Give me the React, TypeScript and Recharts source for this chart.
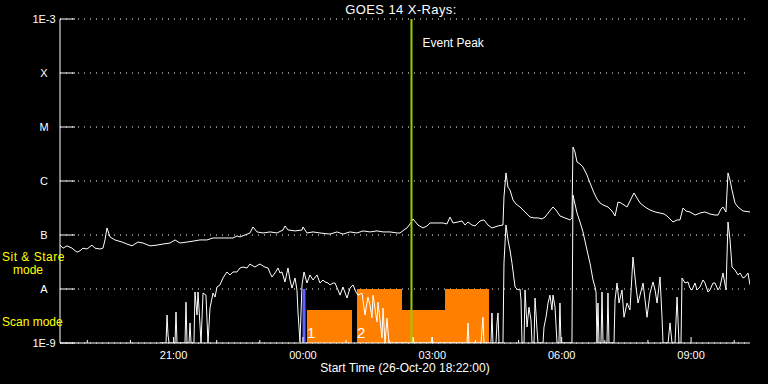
import React from "react";
import {
  ComposedChart,
  Line,
  Area,
  XAxis,
  YAxis,
  CartesianGrid,
  ReferenceLine,
} from "recharts";

// time = minutes after the start time (26-Oct-20 18:22:00), flux in W/m^2
const LONG_CHANNEL: [number, number][] = [
  [0, 6.5e-8], [4.2, 5.7e-8], [9.7, 6.3e-8], [16.7, 5.7e-8], [23.7, 4.8e-8], [27.8, 5.1e-8],
  [32, 5.7e-8], [37.6, 5.5e-8], [44.5, 6.5e-8], [48.7, 5.7e-8], [55.7, 5.5e-8], [59.8, 5.7e-8],
  [62.6, 8.1e-8], [65.4, 1.35e-7], [69.6, 9.2e-8], [76.5, 8.1e-8], [86.3, 7.4e-8], [93.2, 6.8e-8],
  [100.2, 6.3e-8], [108.5, 7.4e-8], [115.5, 7.1e-8], [125.2, 6.3e-8], [135, 6.5e-8], [143.3, 6.8e-8],
  [153, 7.1e-8], [160, 8.1e-8], [167, 7.1e-8], [176.7, 7.4e-8], [185, 7.7e-8], [194.8, 8.1e-8],
  [204.5, 8.1e-8], [212.9, 8.8e-8], [222.6, 8.8e-8], [232.3, 8.8e-8], [240.7, 8.8e-8], [246.3, 9.6e-8],
  [250.4, 9.2e-8], [257.4, 1.0e-7], [264.3, 1.09e-7], [268.5, 1.41e-7], [274.1, 1.14e-7], [282.4, 1.09e-7],
  [292.2, 1.14e-7], [301.9, 1.09e-7], [310.3, 1.24e-7], [313, 1.47e-7], [317.2, 1.24e-7], [327, 1.19e-7],
  [336.7, 1.24e-7], [338.1, 1.41e-7], [343.6, 1.09e-7], [352, 1.14e-7], [361.7, 1.09e-7], [375.7, 1.04e-7],
  [385.4, 1.14e-7], [393.7, 1.04e-7], [403.5, 1.14e-7], [413.2, 1.09e-7], [421.6, 1.19e-7], [431.3, 1.14e-7],
  [441, 1.19e-7], [449.4, 1.14e-7], [459.1, 1.14e-7], [468.9, 1.09e-7], [473, 1.09e-7], [478.6, 1.24e-7],
  [482.8, 1.35e-7], [487, 1.6e-7], [491.1, 1.98e-7], [498.1, 1.53e-7], [505, 1.35e-7], [510.6, 1.47e-7],
  [514.8, 1.67e-7], [524.5, 1.67e-7], [532.9, 1.67e-7], [538.4, 1.6e-7], [542.6, 2.15e-7], [546.8, 1.67e-7],
  [553.7, 1.74e-7], [559.3, 1.82e-7], [563.5, 1.53e-7], [567.7, 1.74e-7], [573.2, 1.53e-7], [577.4, 1.47e-7],
  [584.4, 1.82e-7], [589.9, 1.9e-7], [595.5, 1.53e-7], [601, 1.35e-7], [609.4, 1.47e-7], [616.3, 1.53e-7],
  [617.7, 5.06e-7], [620.5, 1.41e-6], [623.3, 7.7e-7], [626.1, 6.8e-7], [630.3, 4.45e-7], [634.4, 3.75e-7],
  [640, 3.3e-7], [647, 2.67e-7], [653.9, 2.15e-7], [659.5, 2.07e-7], [665, 2.07e-7], [670.6, 1.98e-7],
  [674.8, 2.15e-7], [680.3, 2.67e-7], [685.9, 3.3e-7], [690.1, 2.9e-7], [695.6, 2.25e-7], [702.6, 2.07e-7],
  [709.6, 1.9e-7], [712.3, 2.07e-7], [713.7, 4.27e-6], [716.5, 3.44e-6], [719.3, 2.25e-6], [723.5, 2.07e-6],
  [727.6, 1.82e-6], [733.2, 1.29e-6], [737.4, 9.2e-7], [743, 6.0e-7], [747.1, 4.64e-7], [751.3, 3.92e-7],
  [755.5, 3.6e-7], [762.4, 3.3e-7], [768, 2.78e-7], [772.2, 2.25e-7], [776.4, 4.08e-7], [780.5, 3.92e-7],
  [784.7, 3.6e-7], [788.9, 3.3e-7], [793, 4.26e-7], [798.6, 6.0e-7], [802.8, 4.84e-7], [807, 3.92e-7],
  [814, 3.3e-7], [820.9, 2.9e-7], [827.9, 2.67e-7], [834.8, 2.55e-7], [840.4, 2.45e-7], [844.5, 2.25e-7],
  [848.7, 1.98e-7], [852.9, 1.74e-7], [858.5, 1.9e-7], [862.6, 1.9e-7], [866.8, 3.16e-7], [871, 2.78e-7],
  [876.5, 2.67e-7], [883.5, 2.34e-7], [890.4, 2.55e-7], [897.4, 2.67e-7], [904.3, 2.45e-7], [911.3, 2.34e-7],
  [915.5, 2.34e-7], [919.6, 3.03e-7], [922.4, 3.3e-7], [926.6, 2.67e-7], [929.4, 1.41e-6], [932.2, 1.04e-6],
  [935, 6.8e-7], [939.1, 3.92e-7], [943.3, 3.3e-7], [950.3, 2.78e-7], [960, 2.67e-7],
];

const SHORT_CHANNEL: [number, number][] = [
  [139.1, 1e-9], [147.5, 1e-9], [148.9, 3.3e-9], [150.3, 1.41e-9], [151.7, 1e-9], [160, 1e-9],
  [161.4, 3.75e-9], [162.8, 1e-9], [173.9, 1e-9], [175.3, 5.7e-9], [176.7, 1e-9], [179.5, 1e-9],
  [180.9, 2.35e-9], [182.3, 1e-9], [186.4, 1e-9], [187.8, 8.8e-9], [190.6, 3.3e-9], [192, 8.8e-9],
  [194.8, 2.15e-9], [196.2, 1e-9], [199, 8.4e-9], [203.1, 7.7e-9], [205.9, 1e-9], [208.7, 4.45e-9],
  [212.9, 8.4e-9], [215.7, 7.1e-9], [218.4, 1.09e-8], [222.6, 1.19e-8], [226.8, 1.6e-8], [232.3, 2.07e-8],
  [236.5, 1.82e-8], [240.7, 2.07e-8], [246.3, 2.07e-8], [250.4, 2.45e-8], [254.6, 2.55e-8], [260.2, 2.45e-8],
  [264.3, 2.9e-8], [268.5, 2.67e-8], [271.3, 2.55e-8], [275.5, 2.78e-8], [278.3, 2.9e-8], [282.4, 2.67e-8],
  [285.2, 2.55e-8], [289.4, 2.45e-8], [292.2, 1.98e-8], [295, 1.67e-8], [299.1, 1.98e-8], [303.3, 2.45e-8],
  [306.1, 1.98e-8], [308.9, 2.07e-8], [313, 1.35e-8], [317.2, 2.45e-8], [320, 1.47e-8], [322.8, 1.04e-8],
  [327, 1.6e-8], [329.7, 9.6e-9], [331.1, 3.75e-9], [333.9, 1.04e-9], [336.7, 1.19e-8], [339.5, 2.07e-8],
  [343.6, 1.29e-8], [347.8, 1.82e-8], [352, 1.47e-8], [357.6, 1.82e-8], [361.7, 1.29e-8], [365.9, 1.47e-8],
  [368.7, 1.35e-8], [372.9, 1.29e-8], [375.7, 1.19e-8], [379.8, 1.29e-8], [382.6, 1.29e-8], [386.8, 9.6e-9],
  [389.6, 7.7e-9], [393.7, 1.09e-8], [399.3, 6.8e-9], [403.5, 1.04e-8], [407.6, 1.19e-8], [411.8, 8.8e-9],
  [414.6, 7.7e-9], [420.2, 8.4e-9], [424.3, 3.3e-9], [428.5, 7.1e-9], [431.3, 5.06e-9], [434.1, 2.9e-9],
  [435.5, 7.7e-9], [441, 2.45e-9], [442.4, 5.7e-9], [445.2, 2.67e-9], [448, 1.24e-9], [449.4, 4.45e-9],
  [452.2, 1e-9], [455, 2.9e-9], [457.7, 1e-9], [489.7, 1e-9], [491.1, 1.29e-9], [492.5, 1e-9],
  [516.2, 1e-9], [517.6, 1.29e-9], [519, 1e-9], [566.3, 1e-9], [567.7, 2.35e-9], [569, 1e-9],
  [585.8, 1e-9], [587.1, 1.74e-9], [588.5, 3.0e-9], [589.9, 1e-9], [599.6, 1e-9], [601, 3.6e-9],
  [602.4, 1e-9], [606.6, 1e-9], [608, 2.35e-9], [609.4, 3.6e-9], [610.8, 1e-9], [616.3, 1e-9],
  [617.7, 3.0e-8], [620.5, 1.53e-7], [623.3, 8.1e-8], [626.1, 5.27e-8], [628.9, 3.0e-8], [633.1, 1.09e-8],
  [637.2, 9.6e-9], [640, 1.0e-8], [641.4, 6.25e-9], [642.8, 1e-9], [645.6, 1e-9], [647, 9.6e-9],
  [649.8, 1.98e-9], [652.5, 4.6e-9], [655.3, 2.67e-9], [656.7, 1e-9], [659.5, 1e-9], [660.9, 6.8e-9],
  [663.7, 1.74e-9], [665, 1e-9], [672, 1e-9], [673.4, 1.98e-9], [676.2, 3.0e-9], [679, 5.5e-9],
  [681.7, 7.7e-9], [684.5, 4.1e-9], [685.9, 7.7e-9], [688.7, 4.6e-9], [691.5, 1e-9], [694.2, 1e-9],
  [695.6, 5.5e-9], [697, 1e-9], [711, 1e-9], [712.3, 1e-9], [713.7, 5.5e-7], [719.3, 2.55e-7],
  [723.5, 1.74e-7], [727.6, 1.14e-7], [733.2, 5.27e-8], [737.4, 3.0e-8], [741.6, 1.47e-8], [744.4, 1.09e-8],
  [745.8, 8.8e-9], [747.1, 1e-9], [748.5, 5.5e-9], [749.9, 1e-9], [752.7, 1e-9], [754.1, 8.8e-9],
  [755.5, 1e-9], [761, 1e-9], [762.4, 8.4e-9], [763.8, 1e-9], [770.8, 1e-9], [772.2, 6.25e-9],
  [775, 1.29e-8], [777.8, 5.5e-9], [781.9, 9.6e-9], [784.7, 3.0e-9], [788.9, 5.5e-9], [793, 4.1e-9],
  [797.2, 3.9e-8], [801.4, 1.09e-8], [804.2, 5.5e-9], [807, 7.7e-9], [811.2, 1.29e-8], [814, 6.25e-9],
  [816.7, 3.0e-9], [820.9, 8.4e-9], [825.1, 1.35e-8], [827.9, 9.6e-9], [830.7, 5.5e-9], [834.8, 1.67e-8],
  [837.6, 3.0e-9], [839, 1e-9], [846, 1e-9], [848.7, 2.35e-9], [851.5, 1e-9], [855.7, 1e-9],
  [858.5, 7.1e-9], [861.2, 1e-9], [864, 1e-9], [865.4, 1.6e-8], [869.6, 1.29e-8], [873.7, 1.35e-8],
  [876.5, 1.04e-8], [879.3, 9.6e-9], [883.5, 1.29e-8], [886.3, 9.6e-9], [890.4, 1.09e-8], [894.6, 1.47e-8],
  [897.4, 1.29e-8], [901.6, 8.8e-9], [904.3, 9.6e-9], [908.5, 1.29e-8], [911.3, 1.29e-8], [915.5, 9.6e-9],
  [918.2, 1.09e-8], [922.4, 1.98e-8], [926.6, 9.6e-9], [929.4, 1.74e-7], [932.2, 8.1e-8], [935, 2.55e-8],
  [939.1, 2.25e-8], [943.3, 1.82e-8], [946.1, 1.98e-8], [950.3, 1.6e-8], [953, 1.67e-8], [957.2, 1.98e-8],
  [960, 1.19e-8],
];

// observing mode steps (higher = sit & stare, lower = scan); null breaks the block
const MODE_STEPS: [number, number | null][] = [
  [343.6, 4.1e-9], [406.3, 4.1e-9], [409, null],
  [413.2, 1e-8], [475.8, 4.1e-9], [535.7, 1e-8], [596.9, 1e-8],
];

const HOUR_TICKS = [38, 98, 158, 218, 278, 338, 398, 458, 518, 578, 638, 698, 758, 818, 878, 938];
const MAJOR_TICKS = [158, 338, 518, 698, 878];
const MAJOR_LABELS = ["21:00", "00:00", "03:00", "06:00", "09:00"];

const LEVEL_TICKS = [1e-9, 1e-8, 1e-7, 1e-6, 1e-5, 1e-4, 1e-3];
const LEVEL_LABELS = ["1E-9", "A", "B", "C", "M", "X", "1E-3"];

const EVENT_PEAK = 489;
const MODE_MARK = 339.5;

const FONT = "'Liberation Sans', Arial, sans-serif";
const WHITE = "#ffffff";
const YELLOW = "#ffff00";

const longData = LONG_CHANNEL.map(([t, f]) => ({ t, f }));
const shortData = SHORT_CHANNEL.map(([t, f]) => ({ t, f }));
const modeData = MODE_STEPS.map(([t, v]) => ({ t, v }));

function BottomTick({ x, y, payload }: any) {
  const i = MAJOR_TICKS.indexOf(payload.value);
  return (
    <g>
      <line x1={x} x2={x} y1={y} y2={y - (i >= 0 ? 6 : 3)} stroke={WHITE} />
      {i >= 0 && (
        <text x={x} y={y + 16} textAnchor="middle" fill={WHITE} fontSize={11} fontFamily={FONT}>
          {MAJOR_LABELS[i]}
        </text>
      )}
    </g>
  );
}

function TopTick({ x, y, payload }: any) {
  const major = MAJOR_TICKS.includes(payload.value);
  return <line x1={x} x2={x} y1={y} y2={y + (major ? 6 : 3)} stroke={WHITE} />;
}

function LeftTick({ x, y, payload }: any) {
  const i = LEVEL_TICKS.indexOf(payload.value);
  return (
    <g>
      <line x1={x} x2={x + 15} y1={y} y2={y} stroke={WHITE} />
      <text x={x - 16} y={y + 4} textAnchor="middle" fill={WHITE} fontSize={11} fontFamily={FONT}>
        {LEVEL_LABELS[i]}
      </text>
    </g>
  );
}

function RightTick({ x, y }: any) {
  return <line x1={x - 15} x2={x} y1={y} y2={y} stroke={WHITE} />;
}

export default function App() {
  return (
    <div
      style={{
        position: "absolute",
        left: 0,
        top: 0,
        width: 768,
        height: 384,
        background: "#000",
        fontFamily: FONT,
        overflow: "hidden",
      }}
    >
      <ComposedChart width={768} height={384} margin={{ top: 19, right: 18, bottom: 0, left: 0 }}>
        <CartesianGrid
          xAxisId="b"
          yAxisId="l"
          vertical={false}
          stroke={WHITE}
          strokeDasharray="1 5"
        />
        <XAxis
          xAxisId="b"
          dataKey="t"
          type="number"
          domain={[0, 960]}
          allowDataOverflow
          ticks={HOUR_TICKS}
          interval={0}
          height={41}
          tickSize={0}
          tickMargin={0}
          tickLine={false}
          axisLine={{ stroke: WHITE }}
          tick={<BottomTick />}
        />
        <XAxis
          xAxisId="t"
          orientation="top"
          type="number"
          domain={[0, 960]}
          allowDataOverflow
          ticks={HOUR_TICKS}
          interval={0}
          height={0}
          tickSize={0}
          tickMargin={0}
          tickLine={false}
          axisLine={{ stroke: WHITE }}
          tick={<TopTick />}
        />
        <YAxis
          yAxisId="l"
          scale="log"
          type="number"
          domain={[1e-9, 1e-3]}
          allowDataOverflow
          ticks={LEVEL_TICKS}
          interval={0}
          width={60}
          tickSize={0}
          tickMargin={0}
          tickLine={false}
          axisLine={{ stroke: WHITE }}
          tick={<LeftTick />}
        />
        <YAxis
          yAxisId="r"
          orientation="right"
          scale="log"
          type="number"
          domain={[1e-9, 1e-3]}
          allowDataOverflow
          ticks={LEVEL_TICKS}
          interval={0}
          width={0}
          tickSize={0}
          tickMargin={0}
          tickLine={false}
          axisLine={{ stroke: WHITE }}
          tick={<RightTick />}
        />
        <Area
          xAxisId="b"
          yAxisId="l"
          data={modeData}
          dataKey="v"
          type="stepAfter"
          baseValue={1e-9}
          fill="#ff8000"
          fillOpacity={1}
          stroke="none"
          isAnimationActive={false}
        />
        <Line
          xAxisId="b"
          yAxisId="l"
          data={shortData}
          dataKey="f"
          type="linear"
          stroke={WHITE}
          strokeWidth={1}
          dot={false}
          activeDot={false}
          isAnimationActive={false}
        />
        <Line
          xAxisId="b"
          yAxisId="l"
          data={longData}
          dataKey="f"
          type="linear"
          stroke={WHITE}
          strokeWidth={1}
          dot={false}
          activeDot={false}
          isAnimationActive={false}
        />
        <ReferenceLine
          xAxisId="b"
          yAxisId="l"
          segment={[
            { x: MODE_MARK, y: 1e-9 },
            { x: MODE_MARK, y: 1e-8 },
          ]}
          stroke="#6060ff"
          strokeWidth={3}
        />
        <ReferenceLine
          xAxisId="b"
          yAxisId="l"
          x={EVENT_PEAK}
          stroke="#99cc00"
          strokeWidth={2}
          label={{
            content: ({ viewBox }: any) => (
              <text x={viewBox.x + 11} y={viewBox.y + 28} fill={WHITE} fontSize={12} fontFamily={FONT}>
                Event Peak
              </text>
            ),
          }}
        />
      </ComposedChart>

      <div style={{ position: "absolute", left: 0, width: 802, top: 2, textAlign: "center", color: WHITE, fontSize: 13, letterSpacing: 0.4 }}>
        GOES 14 X-Rays:
      </div>
      <div style={{ position: "absolute", left: 0, width: 810, top: 361, textAlign: "center", color: WHITE, fontSize: 12 }}>
        Start Time (26-Oct-20 18:22:00)
      </div>
      <div style={{ position: "absolute", left: 2, top: 252, color: YELLOW, fontSize: 12, lineHeight: "11px", letterSpacing: 0.5 }}>
        Sit &amp; Stare
      </div>
      <div style={{ position: "absolute", left: 13, top: 265, color: YELLOW, fontSize: 12, lineHeight: "11px" }}>
        mode
      </div>
      <div style={{ position: "absolute", left: 2, top: 317, color: YELLOW, fontSize: 12, lineHeight: "11px" }}>
        Scan mode
      </div>
      <div style={{ position: "absolute", left: 307, top: 325, color: WHITE, fontSize: 15, lineHeight: "15px" }}>1</div>
      <div style={{ position: "absolute", left: 357, top: 325, color: WHITE, fontSize: 15, lineHeight: "15px" }}>2</div>
    </div>
  );
}
